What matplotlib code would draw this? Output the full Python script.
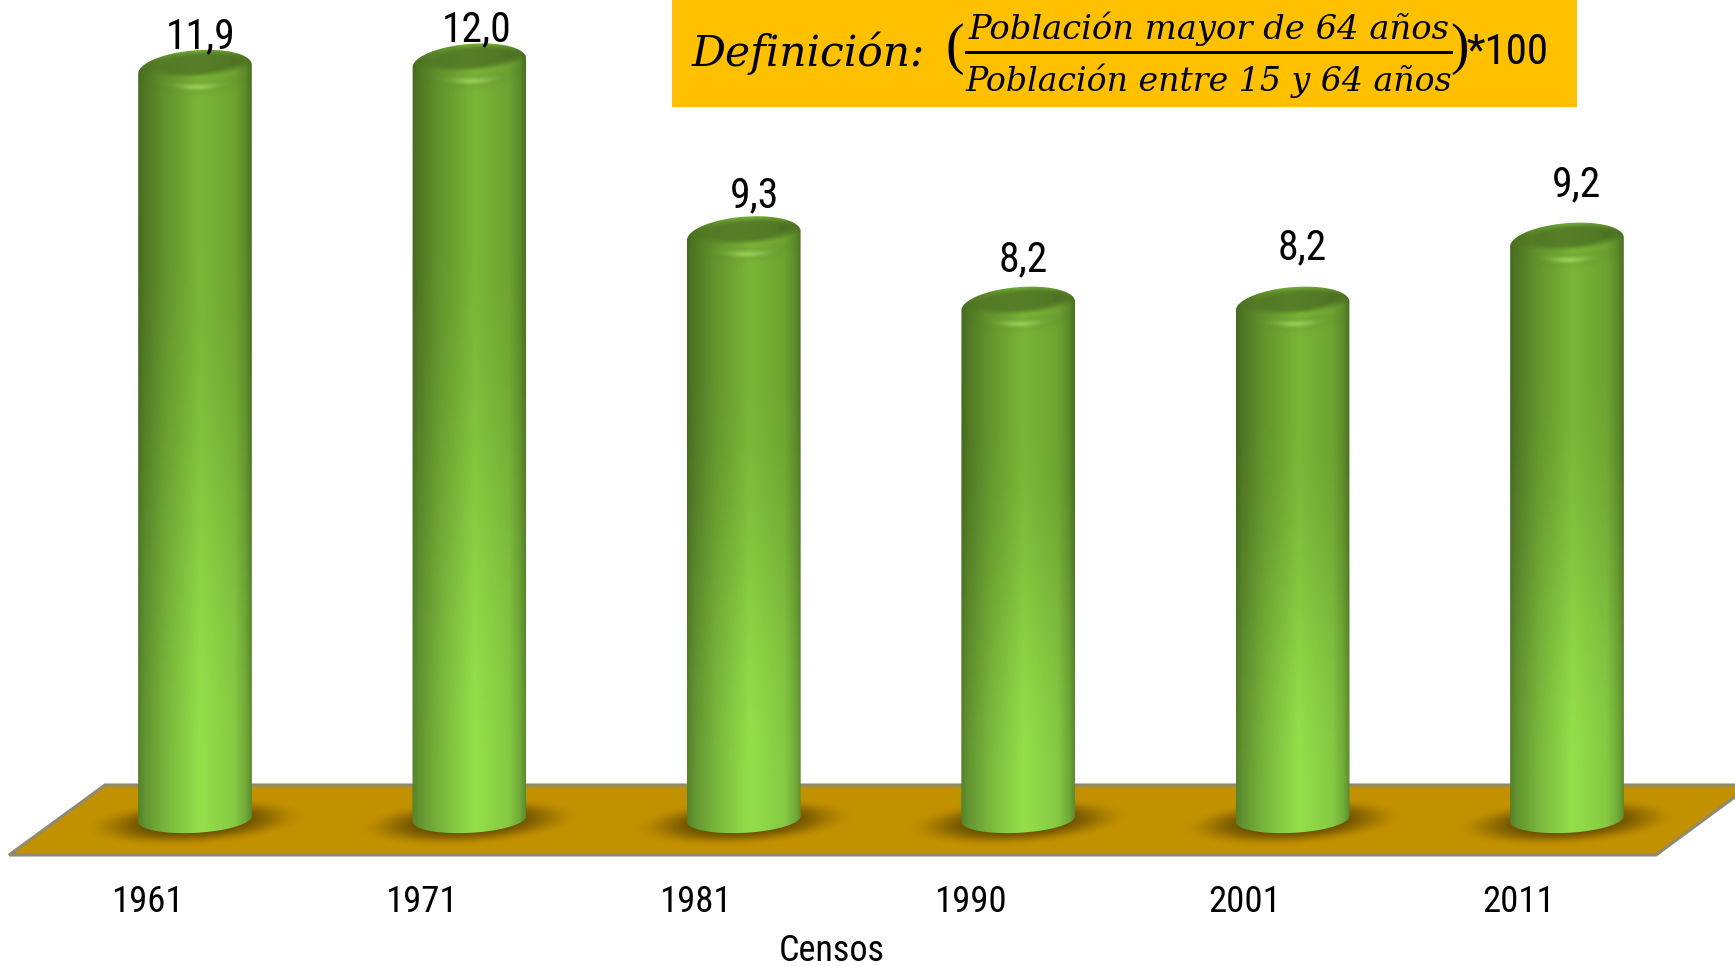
import numpy as np
import matplotlib
matplotlib.use('Agg')
from matplotlib import pyplot as plt
from matplotlib.colors import to_rgb
from matplotlib.patches import Polygon, Rectangle

censos = ['1961', '1971', '1981', '1990', '2001', '2011']
valores = [11.9, 12.0, 9.3, 8.2, 8.2, 9.2]
etiquetas = ['11,9', '12,0', '9,3', '8,2', '8,2', '9,2']

# manual label offsets from the cylinder, in pixels
label_dx = [6, 7, 11, 5, 10, 10]
label_dy = [33, 33, 40, 46, 58, 57]

W, H = 1735, 966
PX_CAT = 274.4   # pixels per category
PX_VAL = 64.0    # pixels per unit of value
X0 = 195         # pixel of first category
Y0 = 831         # pixel of value 0
FLOOR_Y = 855
BASE_VALUE = 0.19

plt.rcParams['font.family'] = ['Roboto Condensed', 'Liberation Sans', 'DejaVu Sans']

fig = plt.figure(figsize=(W / 100, H / 100), dpi=100)
ax = fig.add_axes([0, (H - FLOOR_Y) / H, 1, FLOOR_Y / H])
xlim = (-X0 / PX_CAT, (W - X0) / PX_CAT)
ylim = ((Y0 - FLOOR_Y) / PX_VAL, Y0 / PX_VAL)


def fig_xy(x, y):
    return x / W, 1 - y / H


def smooth(a, b, x):
    t = np.clip((x - a) / (b - a), 0, 1)
    return t * t * (3 - 2 * t)


def ellipse(cx, cy, a, b, tilt, t):
    # pixel space, y down
    c, s = np.cos(tilt), np.sin(tilt)
    ex, ey = a * np.cos(t), b * np.sin(t)
    return cx + ex * c + ey * s, cy - ex * s + ey * c


def to_data(px, py):
    return (np.asarray(px) - X0) / PX_CAT, (Y0 - np.asarray(py)) / PX_VAL


def show(img, left, right, top, bottom, zorder, clip=None):
    l, t = to_data(left, top)
    r, b = to_data(right, bottom)
    im = ax.imshow(img, extent=(l, r, b, t), aspect='auto', origin='upper',
                   interpolation='bilinear', zorder=zorder, clip_on=True)
    if clip is not None:
        im.set_clip_path(clip)
    return im


def shade_across(u):
    return np.interp(u, [0, 0.06, 0.25, 0.55, 0.85, 0.95, 1],
                     [0.58, 0.66, 0.82, 1.0, 0.9, 0.76, 0.62])


# floor
floor_pts = [fig_xy(9, FLOOR_Y), fig_xy(105, 785), fig_xy(1751, 785), fig_xy(1656, FLOOR_Y)]
floor = Polygon(floor_pts, closed=True, transform=fig.transFigure, facecolor='#c29100',
                edgecolor='#8f8a70', linewidth=2.2, zorder=1, clip_on=False)
fig.add_artist(floor)
floor.set_zorder(0)
ax.patch.set_alpha(0)

top_rgb = np.array(to_rgb('#7ab637'))
bot_rgb = np.array(to_rgb('#95e04a'))
dark_rgb = np.array(to_rgb('#577f28'))
light_rgb = np.array(to_rgb('#a8e262'))
shadow_rgb = np.array(to_rgb('#4f3b00'))

A = 57
TILT = np.radians(5)
for i, v in enumerate(valores):
    cx = X0 + PX_CAT * i
    top_y = Y0 - PX_VAL * v
    base_y = Y0 - PX_VAL * BASE_VALUE

    # shadow on the floor
    gx, gy = np.meshgrid(np.arange(-115, 116), np.arange(-34, 35))
    r = np.hypot((gx + gy * 1.2) / 108, gy / 25)
    sh = np.zeros(gx.shape + (4,))
    sh[..., :3] = shadow_rgb
    sh[..., 3] = 0.78 * (1 - smooth(0.35, 1.0, r))
    show(sh, cx - 115, cx + 115, 822 - 34, 822 + 34, 2)

    # body, clipped to the outline of the cylinder
    t1 = np.linspace(np.pi, 2 * np.pi, 60)
    t2 = np.linspace(0, np.pi, 60)
    tx, ty = ellipse(cx, top_y, A, 19, TILT, t1)
    bx, by = ellipse(cx, base_y, A, 14, np.radians(3), t2)
    dx, dy = to_data(np.r_[tx, bx], np.r_[ty, by])
    body = Polygon(np.c_[dx, dy], closed=True, transform=ax.transData, facecolor='none',
                   edgecolor='none')
    ax.add_patch(body)

    u = np.linspace(0, 1, 120)
    w = np.linspace(0, 1, 200)
    uu, ww = np.meshgrid(shade_across(u), w)
    mix = smooth(0.25, 0.9, w)[:, None, None]
    img = (top_rgb * (1 - mix) + bot_rgb * mix) * uu[..., None]
    show(np.clip(img, 0, 1), cx - A, cx + A, top_y - 25, base_y + 25, 3, body)

    # top cap: dark inner ellipse and a soft highlight, both fade into the body
    gx, gy = np.meshgrid(np.linspace(-A, A, 230), np.linspace(-22, 34, 220))
    c, s = np.cos(TILT), np.sin(TILT)
    ex, ey = gx * c - gy * s, gx * s + gy * c
    inner = np.hypot((ex - 4) / 46, (ey + 5) / 11)
    dark_a = 1 - smooth(0.7, 1.35, inner)
    # highlight follows the lower curve of the cap
    curve = 18 * np.sqrt(np.clip(1 - (gx / A) ** 2, 0, 1))
    glow_a = np.exp(-((gx - 3) / 30) ** 2 - ((gy - curve) / 5.0) ** 2) * 0.85
    edge = np.interp(np.abs(gx + 2) / A, [0, 0.6, 1], [1, 0.95, 0.72])[..., None]
    cap = dark_rgb * edge * (1 - glow_a[..., None]) + light_rgb * glow_a[..., None]
    alpha = np.maximum(dark_a, glow_a)
    rgba = np.dstack([np.clip(cap, 0, 1), alpha])
    show(rgba, cx - A, cx + A, top_y - 22, top_y + 34, 4, body)

ax.set_xlim(xlim)
ax.set_ylim(ylim)

for i, v in enumerate(valores):
    ax.annotate(etiquetas[i], (i, v), xytext=(label_dx[i], label_dy[i]), textcoords='offset pixels',
                ha='center', va='center', fontsize=30, color='black', zorder=6,
                annotation_clip=False)

for sp in ax.spines.values():
    sp.set_visible(False)
ax.set_yticks([])
ax.set_xticks(np.arange(len(censos)) - 48 / PX_CAT, censos, fontsize=26.5)
ax.tick_params(axis='x', length=0, pad=21)
ax.set_xlabel('Censos', fontsize=26)
ax.xaxis.set_label_coords(832 / W, -(933 - FLOOR_Y) / FLOOR_Y)

# definition box
fig.add_artist(Rectangle(fig_xy(672, 107), 905 / W, 107 / H, transform=fig.transFigure,
                         facecolor='#ffc000', edgecolor='none', zorder=5))
serif = dict(family='DejaVu Serif', style='italic', color='black', zorder=7, va='center')
fig.text(*fig_xy(692, 53), 'Definición:', fontsize=30.5, ha='left', **serif)
fig.text(*fig_xy(1209, 29), 'Población mayor de 64 años', fontsize=24.3, ha='center', **serif)
fig.text(*fig_xy(1209, 81), 'Población entre 15 y 64 años', fontsize=23.9, ha='center', **serif)
fig.add_artist(Rectangle(fig_xy(965, 54), 488 / W, 3 / H, transform=fig.transFigure,
                         facecolor='black', edgecolor='none', zorder=7))
fig.text(*fig_xy(955, 49), '(', fontsize=40, ha='center', va='center', color='black', zorder=7,
         family='Liberation Serif')
fig.text(*fig_xy(1459, 49), ')', fontsize=40, ha='center', va='center', color='black', zorder=7,
         family='Liberation Serif')
fig.text(*fig_xy(1507, 52), '*100', fontsize=31, ha='center', va='center', color='black', zorder=7)

fig.savefig('out.png', dpi=100, facecolor='white')
